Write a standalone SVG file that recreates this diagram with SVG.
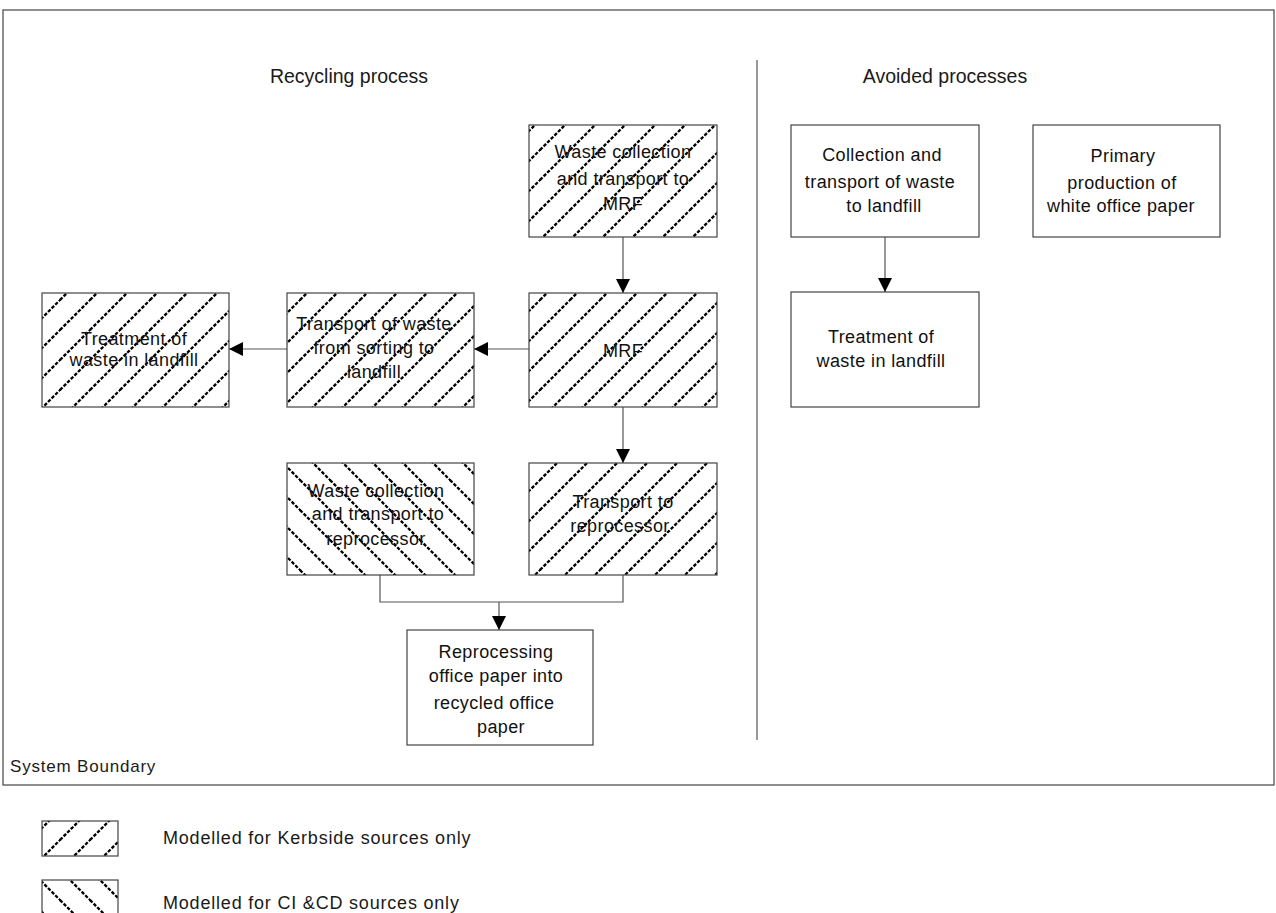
<svg xmlns="http://www.w3.org/2000/svg" width="1276" height="913" viewBox="0 0 1276 913">
<style>
.box{stroke:#444;stroke-width:1.2;}
.plain{fill:#fff;}
.fw{fill:url(#fwd);}
.bk{fill:url(#bck);}
.t{font-family:"Liberation Sans",Arial,sans-serif;font-size:18px;fill:#111;text-anchor:middle;letter-spacing:0.4px;}
.title{font-family:"Liberation Sans",Arial,sans-serif;font-size:19.5px;fill:#1a1a1a;text-anchor:middle;}
.lg{font-family:"Liberation Sans",Arial,sans-serif;font-size:18px;fill:#1a1a1a;letter-spacing:0.8px;}
.conn{stroke:#555;stroke-width:1.2;fill:none;}
.hatch{stroke:#000;stroke-width:2.3;stroke-dasharray:3.5 1.6;fill:none;}
</style>
<defs>
<pattern id="fwd" patternUnits="userSpaceOnUse" width="30" height="30">
<rect width="30" height="30" fill="#fff"/>
<path class="hatch" d="M0,30 L30,0 M-4,4 L4,-4 M26,34 L34,26"/>
</pattern>
<pattern id="bck" patternUnits="userSpaceOnUse" width="30" height="30">
<rect width="30" height="30" fill="#fff"/>
<path class="hatch" d="M0,0 L30,30 M-4,26 L4,34 M26,-4 L34,4"/>
</pattern>
<marker id="arr" markerWidth="14" markerHeight="14" refX="14" refY="7" orient="auto" markerUnits="userSpaceOnUse">
<path d="M0,0 L14,7 L0,14 z" fill="#000"/>
</marker>
</defs>
<rect width="1276" height="913" fill="#fff"/>

<g id="boundary">
<rect x="3" y="10" width="1271" height="775" fill="none" stroke="#444" stroke-width="1.2"/>
<line x1="757" y1="60" x2="757" y2="740" stroke="#555" stroke-width="1.2"/>
<text x="10" y="772" font-family="Liberation Sans, Arial, sans-serif" font-size="17" fill="#1a1a1a" letter-spacing="0.8">System Boundary</text>
<text class="title" x="349" y="83">Recycling process</text>
<text class="title" x="945" y="83">Avoided processes</text>
</g>

<g id="connectors">
<line class="conn" x1="623" y1="237" x2="623" y2="293" marker-end="url(#arr)"/>
<line class="conn" x1="529" y1="349" x2="474" y2="349" marker-end="url(#arr)"/>
<line class="conn" x1="287" y1="349" x2="229" y2="349" marker-end="url(#arr)"/>
<line class="conn" x1="623" y1="407" x2="623" y2="463" marker-end="url(#arr)"/>
<path class="conn" d="M380,575 V602 H623 V575"/>
<line class="conn" x1="499" y1="602" x2="499" y2="630" marker-end="url(#arr)"/>
<line class="conn" x1="885" y1="237" x2="885" y2="292" marker-end="url(#arr)"/>
</g>

<g id="n-collect-mrf">
<rect class="box fw" x="529" y="125" width="188" height="112"/>
<text class="t" x="623" y="158">Waste collection</text>
<text class="t" x="623" y="185">and transport to</text>
<text class="t" x="623" y="210">MRF</text>
</g>

<g id="n-mrf">
<rect class="box fw" x="529" y="293" width="188" height="114"/>
<text class="t" x="623" y="357">MRF</text>
</g>

<g id="n-transport-landfill">
<rect class="box fw" x="287" y="293" width="187" height="114"/>
<text class="t" x="374" y="330">Transport of waste</text>
<text class="t" x="374" y="354">from sorting to</text>
<text class="t" x="374" y="378">landfill</text>
</g>

<g id="n-treatment-recycling">
<rect class="box fw" x="42" y="293" width="187" height="114"/>
<text class="t" x="134" y="345">Treatment of</text>
<text class="t" x="134" y="366">waste in landfill</text>
</g>

<g id="n-collect-reprocessor">
<rect class="box bk" x="287" y="463" width="187" height="112"/>
<text class="t" x="376" y="497">Waste collection</text>
<text class="t" x="378" y="520">and transport to</text>
<text class="t" x="376" y="545">reprocessor</text>
</g>

<g id="n-transport-reprocessor">
<rect class="box fw" x="529" y="463" width="188" height="112"/>
<text class="t" x="623" y="508">Transport to</text>
<text class="t" x="620" y="532">reprocessor</text>
</g>

<g id="n-reprocessing">
<rect class="box plain" x="407" y="630" width="186" height="115"/>
<text class="t" x="496" y="658">Reprocessing</text>
<text class="t" x="496" y="682">office paper into</text>
<text class="t" x="494" y="709">recycled office</text>
<text class="t" x="501" y="733">paper</text>
</g>

<g id="n-collect-landfill">
<rect class="box plain" x="791" y="125" width="188" height="112"/>
<text class="t" x="882" y="161">Collection and</text>
<text class="t" x="880" y="188">transport of waste</text>
<text class="t" x="884" y="212">to landfill</text>
</g>

<g id="n-primary">
<rect class="box plain" x="1033" y="125" width="187" height="112"/>
<text class="t" x="1123" y="162">Primary</text>
<text class="t" x="1122" y="189">production of</text>
<text class="t" x="1121" y="212">white office paper</text>
</g>

<g id="n-treatment-avoided">
<rect class="box plain" x="791" y="292" width="188" height="115"/>
<text class="t" x="881" y="343">Treatment of</text>
<text class="t" x="881" y="367">waste in landfill</text>
</g>

<g id="legend">
<rect class="box fw" x="42" y="821" width="76" height="35"/>
<text class="lg" x="163" y="844">Modelled for Kerbside sources only</text>
<rect class="box bk" x="42" y="880" width="76" height="45"/>
<text class="lg" x="163" y="909">Modelled for CI &amp;CD sources only</text>
</g>
</svg>
